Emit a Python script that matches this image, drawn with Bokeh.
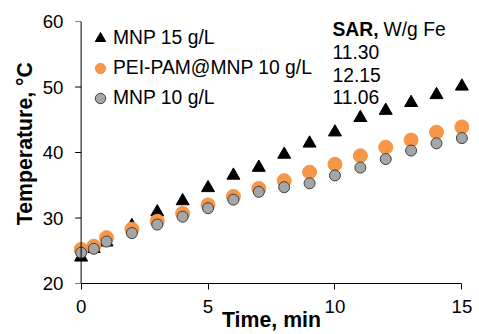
from bokeh.plotting import figure
from bokeh.models import Range1d, Span, Label, Legend, LegendItem, FixedTicker
from bokeh.embed import file_html
from bokeh.resources import INLINE

# ---- data ----
time_min = [0, 0.5, 1, 2, 3, 4, 5, 6, 7, 8, 9, 10, 11, 12, 13, 14, 15]
mnp15 = [24.0, 25.3, 26.3, 28.8, 30.9, 32.6, 34.6, 36.5, 37.7, 39.7, 41.4, 43.1, 45.3, 46.4, 47.6, 48.8, 50.1]
peipam10 = [25.2, 25.7, 27.0, 28.3, 29.5, 30.7, 32.0, 33.3, 34.5, 35.7, 37.0, 38.2, 39.5, 40.8, 41.9, 43.1, 43.9]
mnp10 = [24.7, 25.3, 26.4, 27.7, 29.0, 30.2, 31.5, 32.8, 34.0, 34.7, 35.3, 36.5, 37.7, 39.0, 40.3, 41.4, 42.2]
series_names = ["MNP 15 g/L", "PEI-PAM@MNP 10 g/L", "MNP 10 g/L"]
sar_values = ["11.30", "12.15", "11.06"]
x_ticks = [0, 5, 10, 15]
y_ticks = [20, 30, 40, 50, 60]

FONT = "Liberation Sans"
TICK_FS = "18.7px"
TEXT_FS = "19.3px"
TITLE_FS = "21.3px"

W, H = 479, 334
FL, FW = 73, 396
FT, FH = 21, 263
XPAD = 0.3

p = figure(width=W, height=H, output_backend="svg", toolbar_location=None,
           x_range=Range1d(-XPAD, 15 + XPAD), y_range=Range1d(20, 60),
           min_border_left=FL, min_border_right=W - FL - FW,
           min_border_top=FT, min_border_bottom=H - FT - FH)
p.outline_line_color = None
p.grid.visible = False
p.background_fill_color = "white"
p.border_fill_color = "white"

px_per_x = FW / (15 + 2 * XPAD)
px_per_y = FH / 40.0

# x axis
xa = p.xaxis[0]
xa.ticker = FixedTicker(ticks=x_ticks)
xa.bounds = (0, 15)
xa.axis_line_color = "black"
xa.axis_line_width = 1
xa.major_tick_line_color = "black"
xa.major_tick_out = 6
xa.major_tick_in = 0
xa.minor_tick_line_color = None
xa.major_label_text_font = FONT
xa.major_label_text_font_size = TICK_FS
xa.major_label_text_color = "black"
xa.major_label_standoff = 10
xa.axis_label = "Time, min"
xa.axis_label_text_font = FONT
xa.axis_label_text_font_size = TITLE_FS
xa.axis_label_text_font_style = "bold"
xa.axis_label_text_color = "black"
xa.axis_label_standoff = -8

# y axis (labels only; line and ticks drawn at x=0)
ya = p.yaxis[0]
ya.ticker = FixedTicker(ticks=y_ticks)
ya.axis_line_color = None
ya.major_tick_line_color = None
ya.minor_tick_line_color = None
ya.major_tick_out = 0
ya.major_tick_in = 0
ya.major_label_text_font = FONT
ya.major_label_text_font_size = TICK_FS
ya.major_label_text_color = "black"
ya.major_label_standoff = 10
ya.axis_label = "\u00a0\u00a0\u00a0Temperature, \u00b0C"
ya.axis_label_text_font = FONT
ya.axis_label_text_font_size = TITLE_FS
ya.axis_label_text_font_style = "bold"
ya.axis_label_text_color = "black"
ya.axis_label_standoff = 3

p.add_layout(Span(location=0, dimension="height", line_color="black", line_width=1))
tick_len = 6 / px_per_x
p.segment(x0=[0] * len(y_ticks), y0=y_ticks, x1=[-tick_len] * len(y_ticks), y1=y_ticks,
          line_color="black", line_width=1)

r1 = p.scatter(time_min, mnp15, marker="triangle", size=13, fill_color="black", line_color="black")
r2 = p.scatter(time_min, peipam10, marker="circle", size=14, fill_color="#F79646", line_color="#F79646")
r3 = p.scatter(time_min, mnp10, marker="circle", size=11, fill_color="#A6A6A6", line_color="#3F3F3F", line_width=1)

legend = Legend(items=[LegendItem(label=series_names[0], renderers=[r1]),
                       LegendItem(label=series_names[1], renderers=[r2]),
                       LegendItem(label=series_names[2], renderers=[r3])],
                location=(14, FH - 93), padding=0, margin=0, spacing=0,
                glyph_width=26, glyph_height=30, label_height=30, label_standoff=0,
                border_line_color=None, background_fill_alpha=0,
                label_text_font=FONT, label_text_font_size=TEXT_FS, label_text_color="black")
p.add_layout(legend)

# SAR annotation
def px2x(px):
    return (px - FL) / px_per_x - XPAD

def py2y(py):
    return 60 - (py - FT) / px_per_y

p.add_layout(Label(x=px2x(332), y=py2y(29.3), text="SAR,", text_font=FONT, text_font_size=TEXT_FS,
                   text_font_style="bold", text_baseline="middle", text_color="black"))
p.add_layout(Label(x=px2x(383), y=py2y(29.3), text="W/g Fe", text_font=FONT, text_font_size=TEXT_FS,
                   text_baseline="middle", text_color="black"))
for i, s in enumerate(sar_values):
    p.add_layout(Label(x=px2x(332), y=py2y(51.8 + 22.5 * i), text=s, text_font=FONT,
                       text_font_size=TEXT_FS, text_baseline="middle", text_color="black"))

open("out.html", "w").write(file_html(p, INLINE))
